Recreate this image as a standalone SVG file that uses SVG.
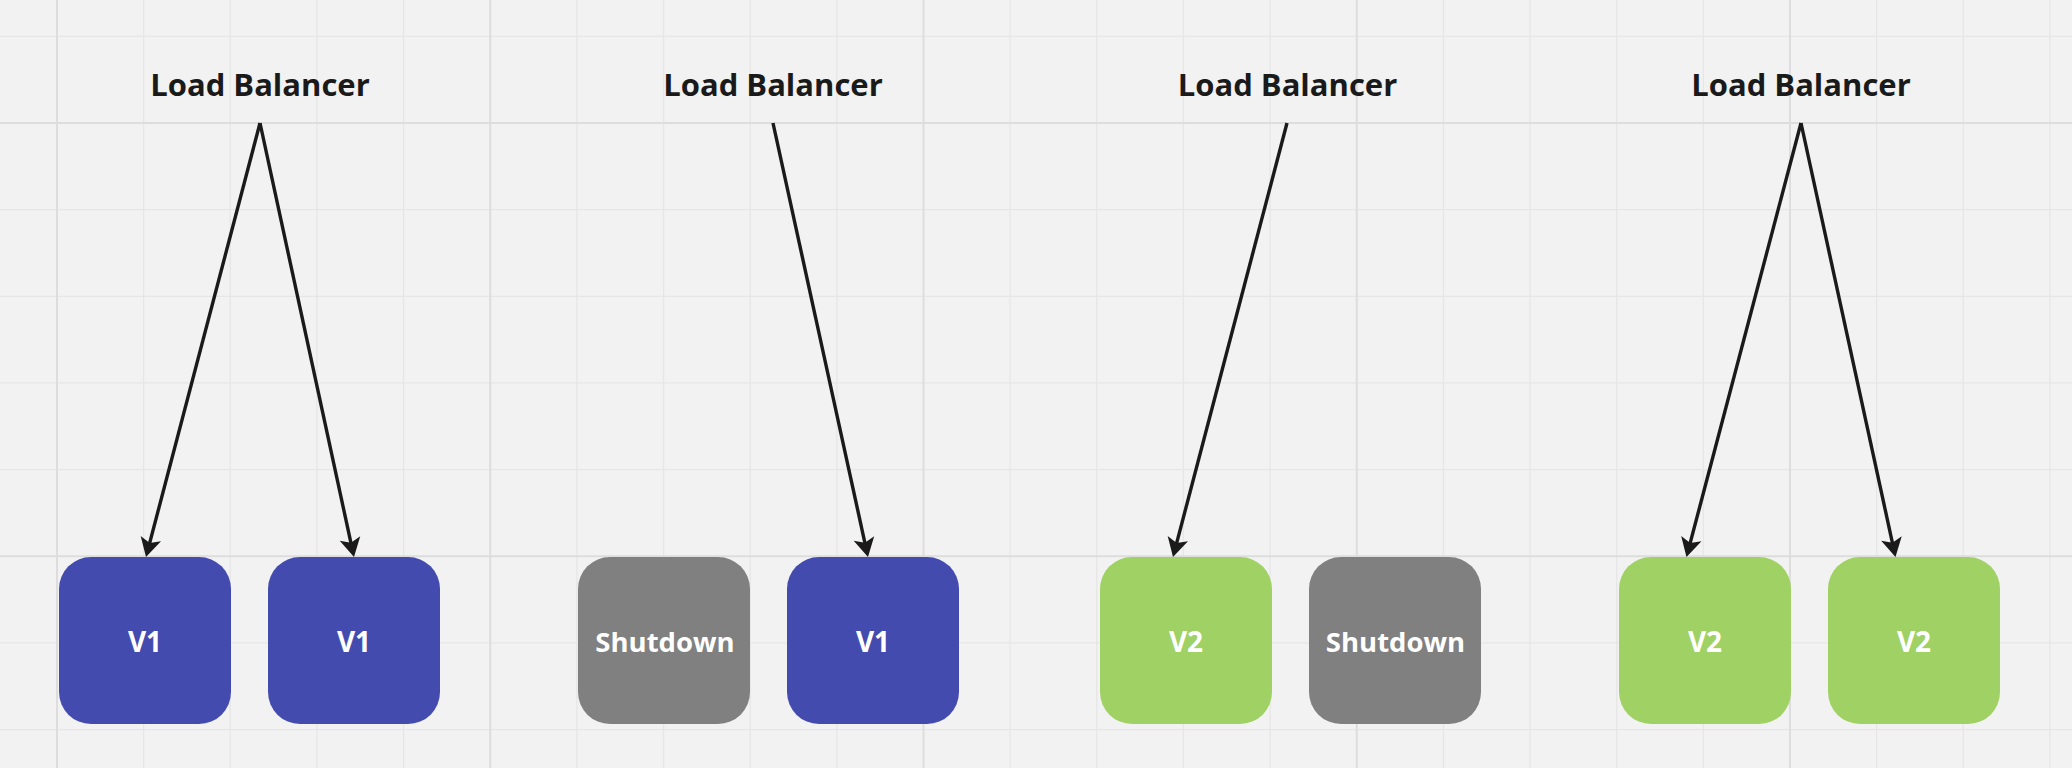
<svg xmlns="http://www.w3.org/2000/svg" width="2072" height="768" viewBox="0 0 2072 768">
<defs>
<style>
.minor{stroke:#e6e6e6;stroke-width:1.3;fill:none}
.major{stroke:#dddddd;stroke-width:2;fill:none}
.lb{font-family:"Open Sans","Noto Sans","DejaVu Sans",sans-serif;font-weight:700;font-size:31px;fill:#1a1a1a;text-anchor:middle}
.nt{font-family:"Open Sans","Noto Sans","DejaVu Sans",sans-serif;font-weight:700;font-size:28px;fill:#ffffff;text-anchor:middle}
.sdt{font-size:27.5px}
.conn{stroke:#1a1a1a;stroke-width:3.4;fill:none;marker-end:url(#arr)}
.v1{fill:#434CAE}
.v2{fill:#A0D164}
.sd{fill:#808080}
</style>
<marker id="arr" markerUnits="userSpaceOnUse" viewBox="-9 -13 24 26" markerWidth="24" markerHeight="26" refX="0" refY="0" orient="auto">
<path d="M12,0 L-7,-10.5 L-2.5,0 L-7,10.5 Z" fill="#1a1a1a"/>
</marker>
</defs>
<rect width="2072" height="768" fill="#f2f2f2"/>
<g id="grid">
<path class="minor" d="M-29.65,0V768M143.65,0V768M230.3,0V768M316.95,0V768M403.6,0V768M576.9,0V768M663.55,0V768M750.2,0V768M836.85,0V768M1010.15,0V768M1096.8,0V768M1183.45,0V768M1270.1,0V768M1443.4,0V768M1530.05,0V768M1616.7,0V768M1703.35,0V768M1876.65,0V768M1963.3,0V768M2049.95,0V768M0,36.35H2072M0,209.65H2072M0,296.3H2072M0,382.95H2072M0,469.6H2072M0,642.9H2072M0,729.55H2072"/>
<path class="major" d="M57,0V768M490.25,0V768M923.5,0V768M1356.75,0V768M1790,0V768M0,123H2072M0,556.25H2072"/>
</g>
<g id="connectors">
<path class="conn" d="M260,123 L149.05,545.4"/>
<path class="conn" d="M260,123 L351.46,545.27"/>
<path class="conn" d="M773,123 L865.43,545.28"/>
<path class="conn" d="M1287,123 L1176.05,545.4"/>
<path class="conn" d="M1801,123 L1689.55,545.4"/>
<path class="conn" d="M1801,123 L1892.95,545.27"/>
</g>
<g id="lb1"><text class="lb" x="260" y="95.5">Load Balancer</text></g>
<g id="lb2"><text class="lb" x="773" y="95.5">Load Balancer</text></g>
<g id="lb3"><text class="lb" x="1287.5" y="95.5">Load Balancer</text></g>
<g id="lb4"><text class="lb" x="1801" y="95.5">Load Balancer</text></g>
<g id="n1"><rect class="v1" x="59" y="557" width="172" height="167" rx="32"/><text class="nt" x="145" y="651.5">V1</text></g>
<g id="n2"><rect class="v1" x="268" y="557" width="172" height="167" rx="32"/><text class="nt" x="354" y="651.5">V1</text></g>
<g id="n3"><rect class="sd" x="578" y="557" width="172" height="167" rx="32"/><text class="nt sdt" x="665" y="651.5">Shutdown</text></g>
<g id="n4"><rect class="v1" x="787" y="557" width="172" height="167" rx="32"/><text class="nt" x="873" y="651.5">V1</text></g>
<g id="n5"><rect class="v2" x="1100" y="557" width="172" height="167" rx="32"/><text class="nt" x="1186" y="651.5">V2</text></g>
<g id="n6"><rect class="sd" x="1309" y="557" width="172" height="167" rx="32"/><text class="nt sdt" x="1395.5" y="651.5">Shutdown</text></g>
<g id="n7"><rect class="v2" x="1619" y="557" width="172" height="167" rx="32"/><text class="nt" x="1705" y="651.5">V2</text></g>
<g id="n8"><rect class="v2" x="1828" y="557" width="172" height="167" rx="32"/><text class="nt" x="1914" y="651.5">V2</text></g>
</svg>
